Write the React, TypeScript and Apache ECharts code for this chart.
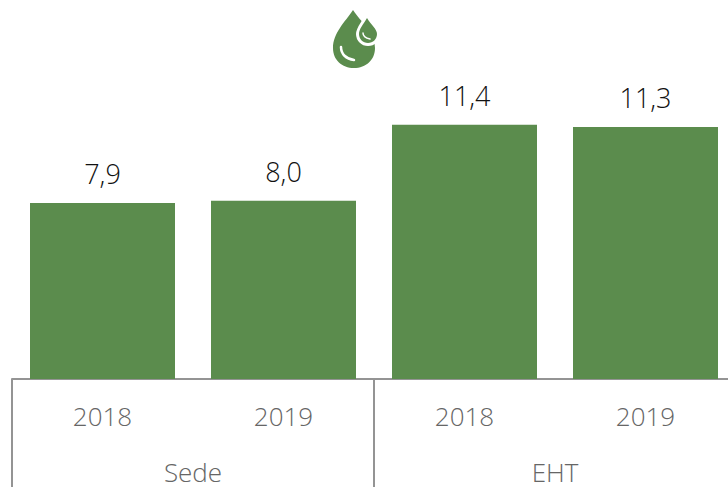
import React, { useEffect, useRef } from "react";
import * as echarts from "echarts";

const years = ["2018", "2019", "2018", "2019"];
const groups = ["Sede", "EHT"];
const values = [7.9, 8.0, 11.4, 11.3];

const GREEN = "#5b8c4d";
const AXIS = "#949494";
const TEXT = "#666666";
const FONT = '"Open Sans", sans-serif';

echarts.graphic.registerShape(
  "dropBig",
  echarts.graphic.extendPath(
    "M353 10C345 22 333 33 333 48C333 60 342 68 354 68C366 68 375 60 375 48C375 33 361 22 353 10Z",
    {}
  )
);
echarts.graphic.registerShape(
  "dropSmall",
  echarts.graphic.extendPath(
    "M367 18C363 25 359 29 359 34C359 39 363 43 368 43C373 43 377 39 377 34C377 29 371 25 367 18Z",
    {}
  )
);
echarts.graphic.registerShape(
  "arcBig",
  echarts.graphic.extendPath("M341 47C341 54 346 59 354 60", {})
);
echarts.graphic.registerShape(
  "arcSmall",
  echarts.graphic.extendPath("M363 33C363 36 365 38 370 39", {})
);

export default function App() {
  const ref = useRef<HTMLDivElement>(null);
  useEffect(() => {
    document.body.style.margin = "0";
    const chart = echarts.init(ref.current!, null, { renderer: "svg" });
    chart.setOption({
      animation: false,
      backgroundColor: "#ffffff",
      grid: { left: 12, right: 0, top: 0, bottom: 108, containLabel: false },
      xAxis: [
        {
          type: "category",
          data: years,
          position: "bottom",
          axisLine: { show: true, lineStyle: { color: AXIS, width: 2 } },
          axisTick: { show: false },
          axisLabel: {
            interval: 0,
            color: TEXT,
            fontFamily: FONT,
            fontWeight: 300,
            fontSize: 26,
            margin: 24,
          },
        },
        {
          type: "category",
          data: groups,
          position: "bottom",
          axisLine: { show: false },
          axisTick: { show: true, length: 108, lineStyle: { color: AXIS, width: 2 } },
          axisLabel: {
            interval: 0,
            color: TEXT,
            fontFamily: FONT,
            fontWeight: 300,
            fontSize: 26,
            margin: 80,
          },
        },
      ],
      yAxis: { type: "value", min: 0, max: 17, show: false },
      series: [
        {
          type: "bar",
          xAxisIndex: 0,
          data: values,
          barWidth: 145,
          itemStyle: { color: GREEN },
          label: {
            show: true,
            position: "top",
            distance: 16,
            color: "#111111",
            fontFamily: FONT,
            fontWeight: 300,
            fontSize: 27,
            formatter: (p: any) => p.value.toFixed(1).replace(".", ","),
          },
        },
      ],
      graphic: [
        { type: "dropBig", style: { fill: GREEN } },
        { type: "dropSmall", style: { fill: "#ffffff", stroke: "#ffffff", lineWidth: 6 } },
        { type: "dropSmall", style: { fill: GREEN } },
        { type: "arcBig", style: { fill: "none", stroke: "#ffffff", lineWidth: 2.5, lineCap: "round" } },
        { type: "arcSmall", style: { fill: "none", stroke: "#ffffff", lineWidth: 1.5, lineCap: "round" } },
      ],
    });
    return () => chart.dispose();
  }, []);
  return (
    <div style={{ width: 728, height: 487, overflow: "hidden" }}>
      <div ref={ref} style={{ width: 736, height: 487 }} />
    </div>
  );
}
